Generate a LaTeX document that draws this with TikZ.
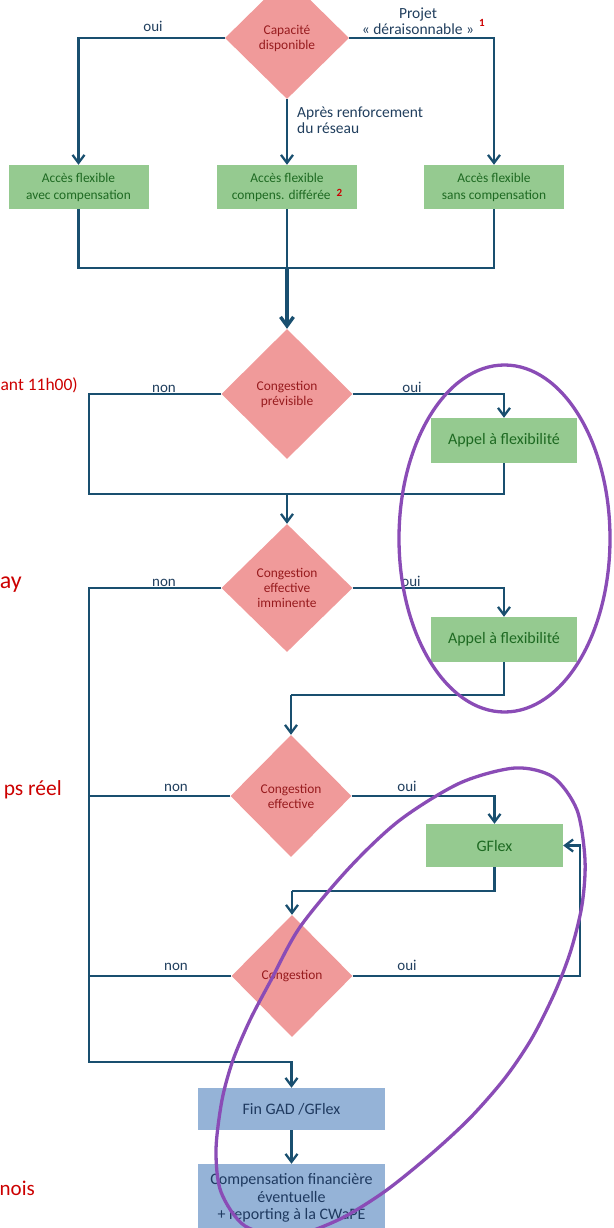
\documentclass[tikz,border=0pt]{standalone}
\usepackage{fontspec}
\setmainfont{Carlito}
\usetikzlibrary{shapes.geometric,arrows.meta}
\definecolor{ln}{HTML}{194F6F}
\definecolor{labc}{HTML}{213F5E}
\definecolor{dfill}{HTML}{F09A9A}
\definecolor{dtext}{HTML}{971B1E}
\definecolor{gfill}{HTML}{95CA90}
\definecolor{gtext}{HTML}{1E6A22}
\definecolor{bfill}{HTML}{95B3D7}
\definecolor{btext}{HTML}{1F3A60}
\definecolor{redc}{HTML}{CC0000}
\definecolor{purp}{HTML}{8A4CB6}
\begin{document}
\begin{tikzpicture}[x=1pt,y=-1pt,
 conn/.style={draw=ln,line width=2.3pt},
 arr/.style={conn,-{Straight Barb[length=8pt,width=12pt]}},
 dia/.style={diamond,fill=dfill,text=dtext,inner sep=0pt,align=center,font=\fontsize{13.4}{15}\selectfont},
 gbox/.style={rectangle,fill=gfill,text=gtext,inner sep=0pt,align=center},
 bbox/.style={rectangle,fill=bfill,text=btext,inner sep=0pt,align=center,font=\fontsize{16}{17.5}\selectfont,minimum width=187pt},
 lab/.style={text=labc,inner sep=0pt,anchor=base,font=\fontsize{15}{16}\selectfont},
 side/.style={text=redc,inner sep=0pt,anchor=base east},
 ring/.style={draw=purp,line width=3.3pt}
]
\useasboundingbox (0,0) rectangle (613,1228);

% ---- top section
\node[dia,minimum width=124pt,minimum height=122pt] (d1) at (287,38) {Capacité\\disponible};
\node[gbox,minimum width=140pt,minimum height=44pt,font=\fontsize{13.4}{17}\selectfont] (b1) at (78.5,187) {Accès flexible\\avec compensation};
\node[gbox,minimum width=140pt,minimum height=44pt,font=\fontsize{13.4}{17}\selectfont] (b2) at (287,187) {Accès flexible\\compens. différée\hspace{6pt}\raisebox{3pt}{\textcolor{redc}{\bfseries\fontsize{11}{11}\selectfont 2}}};
\node[gbox,minimum width=140pt,minimum height=44pt,font=\fontsize{13.4}{17}\selectfont] (b3) at (494,187) {Accès flexible\\sans compensation};

\node[lab] at (153,32) {oui};
\node[text=labc,inner sep=0pt,align=center,font=\fontsize{15.5}{16}\selectfont] at (418,21) {Projet\\« déraisonnable »};
\node[text=redc,font=\bfseries\fontsize{11}{11}\selectfont,inner sep=0pt] at (482,23) {1};
\node[text=labc,inner sep=0pt,align=left,anchor=west,font=\fontsize{15.5}{15.5}\selectfont] at (297,120) {Après renforcement\\du réseau};

\draw[arr] (d1.west) -| (b1.north);
\draw[arr] (d1.east) -| (b3.north);
\draw[arr] (d1.south) -- (b2.north);
\coordinate (j1) at (287,268);
\draw[conn] (b1.south) |- (j1) -| (b3.south);
\draw[conn] (b2.south) -- (j1);

% ---- J-1
\node[dia,minimum width=131pt,minimum height=130pt] (d2) at (287,394) {Congestion\\prévisible};
\draw[conn,line width=3.4pt,-{Straight Barb[length=9pt,width=13pt]}] (j1) -- (d2.north);
\node[gbox,minimum width=146pt,minimum height=45pt,font=\fontsize{16}{17}\selectfont] (a1) at (504,440.5) {Appel à flexibilité};
\node[lab] at (164,392) {non};
\node[lab] at (412,392) {oui};
\draw[arr] (d2.east) -| (a1.north);
\coordinate (L2) at (89,494);
\coordinate (j2) at (287,494);
\draw[conn] (d2.west) -| (L2) -- (j2);
\draw[conn] (a1.south) |- (j2);

% ---- intraday
\node[dia,minimum width=131pt,minimum height=128pt] (d3) at (287,588) {Congestion\\effective\\imminente};
\draw[arr] (j2) -- (d3.north);
\node[gbox,minimum width=146pt,minimum height=45pt,font=\fontsize{16}{17}\selectfont] (a2) at (504,639.5) {Appel à flexibilité};
\node[lab] at (164,586) {non};
\node[lab] at (411,586) {oui};
\draw[arr] (d3.east) -| (a2.north);

% ---- temps reel
\node[dia,minimum width=121pt,minimum height=122pt] (d4) at (291,796) {Congestion\\effective};
\coordinate (j3) at (291,695);
\draw[conn] (a2.south) |- (j3);
\draw[arr] (j3) -- (d4.north);
\node[gbox,minimum width=137pt,minimum height=43pt,font=\fontsize{16}{17}\selectfont] (gf) at (494.5,845.5) {GFlex};
\node[lab] at (176,791) {non};
\node[lab] at (407,791) {oui};
\draw[arr] (d4.east) -| (gf.north);

\node[dia,minimum width=121pt,minimum height=122pt] (d5) at (292,976) {Congestion};
\coordinate (j4) at (292,891);
\draw[conn] (gf.south) |- (j4);
\draw[arr] (j4) -- (d5.north);
\node[lab] at (176,970) {non};
\node[lab] at (407,970) {oui};
\coordinate (R5) at (580,976);
\draw[arr] (d5.east) -- (R5) |- (gf.east);

% ---- end
\node[bbox,minimum height=42pt] (fin) at (291.5,1109) {Fin GAD /GFlex};
\node[bbox,minimum height=68pt] (comp) at (291.5,1198) {Compensation financière\\éventuelle\\+ reporting à la CWaPE};
\coordinate (L3) at (89,1062);
\draw[arr] (d3.west) -| (L3) -| (fin.north);
\draw[conn] (d4.west) -- (d4.west -| L3);
\draw[conn] (d5.west) -- (d5.west -| L3);
\draw[arr] (fin.south) -- (comp.north);

% ---- side labels (cut at the left edge)
\node[side,font=\fontsize{17.5}{18}\selectfont] at (78,390) {ant 11h00)};
\node[side,font=\fontsize{24}{24}\selectfont] at (22,588) {ay};
\node[side,font=\fontsize{21.5}{22}\selectfont] at (62,795) {ps réel};
\node[side,font=\fontsize{21}{22}\selectfont] at (35,1195) {nois};

% ---- purple rings
\draw[ring] (504.5,538.5) ellipse (105.5pt and 173.5pt);
\draw[ring] plot[smooth cycle,tension=0.5] coordinates {
 (515,768) (553,777) (577,810) (585,860) (582,905) (571,950) (555,992)
 (532,1038) (505,1078) (470,1118) (430,1155) (384,1192) (338,1220) (290,1236)
 (245,1226) (221,1192) (216,1150) (222,1100) (233,1060) (250,1020) (270,982)
 (300,927) (350,867) (400,820) (460,783)};
\end{tikzpicture}
\end{document}
